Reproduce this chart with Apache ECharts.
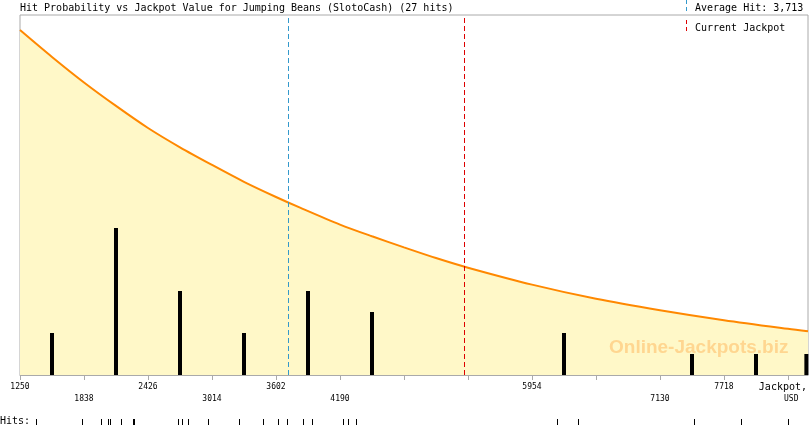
<!DOCTYPE html>
<html>
<head>
<meta charset="utf-8">
<script src="https://cdn.jsdelivr.net/npm/echarts@6/dist/echarts.min.js"></script>
<style>html,body{margin:0;padding:0;background:#fff;}#c{width:810px;height:425px;}</style>
</head>
<body>
<div id="c"></div>
<script>
var titleText = 'Hit Probability vs Jackpot Value for Jumping Beans (SlotoCash) (27 hits)';
var xMin = 1250, xMax = 8490, xStep = 588;
var tickLabelsTop = [1250, 2426, 3602, 5954, 7718];
var tickLabelsBottom = [1838, 3014, 4190, 7130];
var averageHit = 3713;
var currentJackpot = 5329;
var curveX = [1250, 1544, 1838, 2132, 2426, 2720, 3014, 3308, 3602, 3823, 4190, 4484, 4778, 5072, 5366, 5954, 6542, 7130, 7718, 8306, 8490];
var curveP = [1.00, 0.922, 0.848, 0.780, 0.716, 0.660, 0.609, 0.560, 0.516, 0.485, 0.436, 0.402, 0.370, 0.339, 0.311, 0.262, 0.221, 0.188, 0.159, 0.134, 0.127];
var binCenters = [1544, 2132, 2720, 3308, 3896, 4484, 6248, 7424, 8012, 8600];
var binCounts = [2, 7, 4, 2, 4, 3, 2, 1, 1, 1];
var hits = [1397, 1820, 1994, 2059, 2077, 2078, 2178, 2288, 2297, 2702, 2738, 2793, 2977, 3262, 3483, 3620, 3703, 3850, 3933, 4218, 4264, 4337, 6184, 6377, 7442, 7874, 8306];

var FONT = 'DejaVu Sans Mono';
var chart = echarts.init(document.getElementById('c'), null, {renderer: 'canvas'});

function fmtThousands(v){ return String(v).replace(/\B(?=(\d{3})+(?!\d))/g, ','); }

var curveData = curveX.map(function(x, i){ return [x, curveP[i]]; });
var barData = binCenters.map(function(c, i){ return [Math.min(c, xMax - 15), binCounts[i]]; });
var hitData = hits.map(function(h){ return [h, 0]; });

var option = {
  animation: false,
  backgroundColor: '#fff',
  title: {
    text: titleText, left: 20, top: 3, padding: 0,
    textStyle: {fontFamily: FONT, fontSize: 10, fontWeight: 'normal', color: '#000'}
  },
  grid: [
    {left: 20, top: 15, right: 2, bottom: 50, show: true, borderColor: '#aaa', borderWidth: 1, backgroundColor: 'transparent'},
    {left: 20, top: 416, right: 2, height: 8, show: false}
  ],
  xAxis: [
    {type: 'value', gridIndex: 0, min: xMin, max: xMax, interval: xStep,
     axisLine: {show: true, lineStyle: {color: '#aaa'}},
     axisTick: {show: true, length: 5, lineStyle: {color: '#aaa'}},
     splitLine: {show: false},
     axisLabel: {show: true, margin: 8, fontFamily: FONT, fontSize: 8, color: '#000', showMaxLabel: false,
       formatter: function(v){ return tickLabelsTop.indexOf(v) >= 0 ? String(v) : ''; }}},
    {type: 'value', gridIndex: 0, min: xMin, max: xMax, interval: xStep, position: 'bottom',
     axisLine: {show: false}, axisTick: {show: false}, splitLine: {show: false},
     axisLabel: {show: true, margin: 20, fontFamily: FONT, fontSize: 8, color: '#000', showMaxLabel: false,
       formatter: function(v){ return tickLabelsBottom.indexOf(v) >= 0 ? String(v) : ''; }}},
    {type: 'value', gridIndex: 1, min: xMin, max: xMax, show: false}
  ],
  yAxis: [
    {type: 'value', gridIndex: 0, min: 0, max: 360/345, show: false, splitLine: {show: false}},
    {type: 'value', gridIndex: 0, min: 0, max: 360/21, show: false, splitLine: {show: false}},
    {type: 'value', gridIndex: 1, min: -1, max: 1, show: false}
  ],
  graphic: [
    {type: 'text', left: 609, top: 338, z: 3, style: {text: 'Online-Jackpots.biz', font: 'bold 19px "Liberation Sans", Arial, sans-serif', fill: '#ffd690'}},
    {type: 'line', shape: {x1: 686.5, y1: 0, x2: 686.5, y2: 12}, style: {stroke: '#3399cc', lineWidth: 1, lineDash: [4, 3]}},
    {type: 'text', left: 695, top: 3, style: {text: 'Average Hit: ' + fmtThousands(averageHit), font: '10px "' + FONT + '"', fill: '#000'}},
    {type: 'line', shape: {x1: 686.5, y1: 20, x2: 686.5, y2: 33}, style: {stroke: '#dd0000', lineWidth: 1, lineDash: [4, 3]}},
    {type: 'text', left: 695, top: 23, style: {text: 'Current Jackpot', font: '10px "' + FONT + '"', fill: '#000'}},
    {type: 'text', right: 3, top: 382, style: {text: 'Jackpot,', font: '10px "' + FONT + '"', fill: '#000'}},
    {type: 'text', left: 784, top: 395, style: {text: 'USD', font: '8px "' + FONT + '"', fill: '#000'}},
    {type: 'text', left: 0, top: 416, style: {text: 'Hits:', font: '10px "' + FONT + '"', fill: '#000'}}
  ],
  series: [
    {type: 'line', xAxisIndex: 0, yAxisIndex: 0, data: curveData, smooth: 0.3, showSymbol: false, z: 2,
     lineStyle: {color: '#ff8800', width: 2},
     areaStyle: {color: '#fff8c8', opacity: 1},
     markLine: {silent: true, symbol: 'none', label: {show: false},
       data: [
         {xAxis: averageHit, lineStyle: {color: '#3399cc', type: [5, 3], width: 1}},
         {xAxis: currentJackpot, lineStyle: {color: '#dd0000', type: [5, 3], width: 1}}
       ]}},
    {type: 'bar', xAxisIndex: 0, yAxisIndex: 1, data: barData, barWidth: 4, z: 5,
     itemStyle: {color: '#000'}},
    {type: 'custom', xAxisIndex: 2, yAxisIndex: 2, data: hitData,
     renderItem: function(params, api){
       var p = api.coord([api.value(0), api.value(1)]);
       var x = Math.round(p[0]) + 0.5;
       return {type: 'line', shape: {x1: x, y1: 419, x2: x, y2: 425}, style: {stroke: '#000', lineWidth: 1}};
     }}
  ]
};
chart.setOption(option);
</script>
</body>
</html>
